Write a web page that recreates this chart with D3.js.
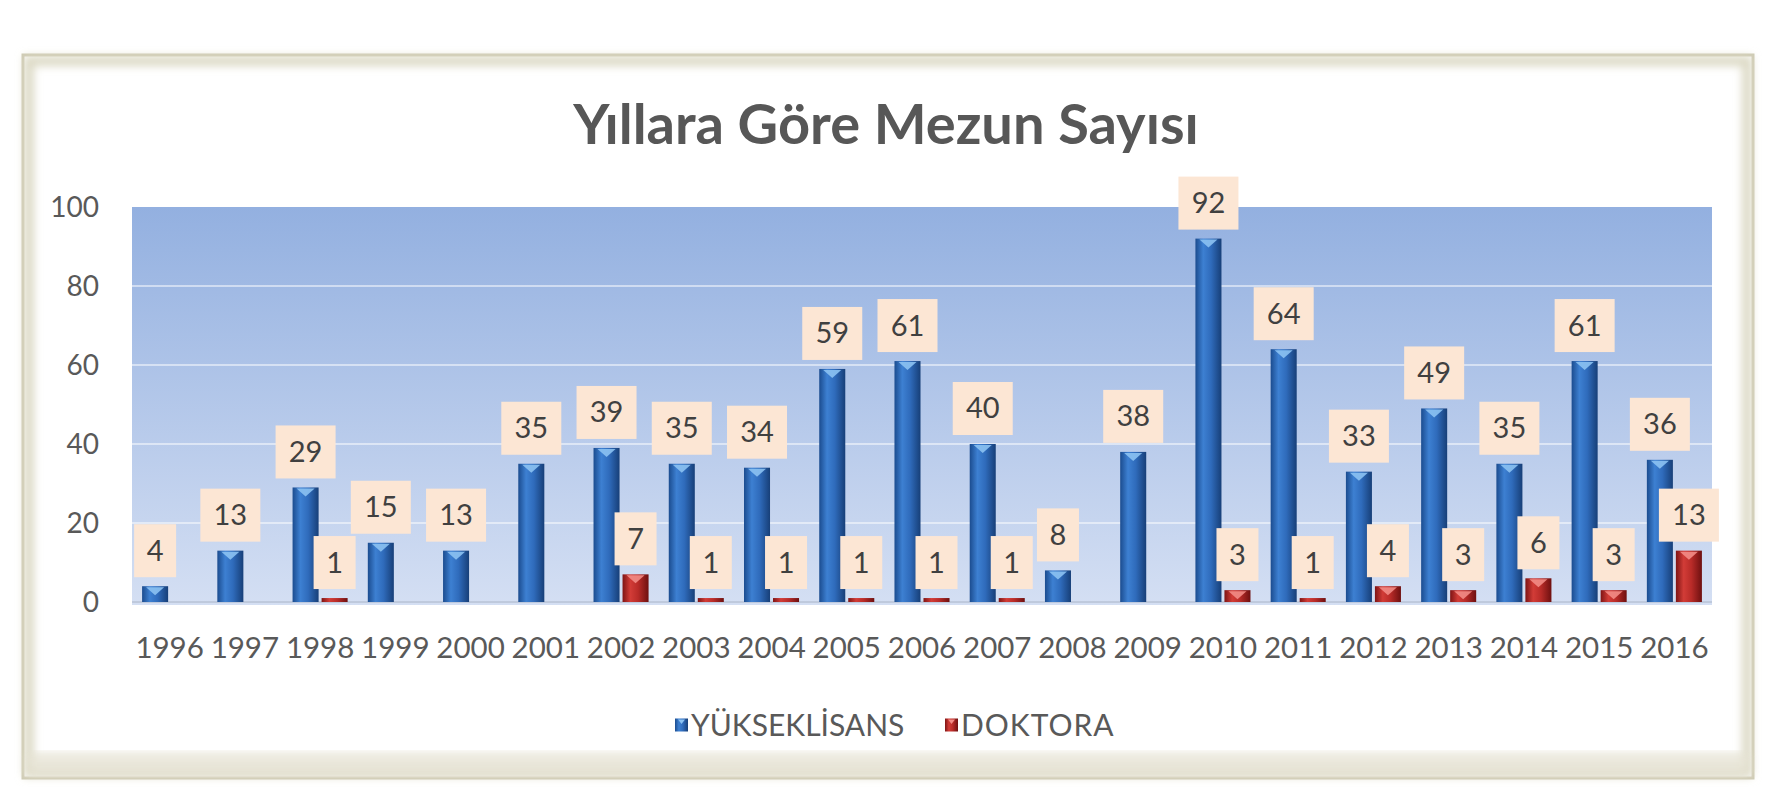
<!DOCTYPE html>
<html>
<head>
<meta charset="utf-8">
<script src="https://cdn.jsdelivr.net/npm/d3@7"></script>
<style>
  html, body { margin: 0; padding: 0; background: #fff; }
  svg { display: block; font-family: Lato, 'Open Sans', sans-serif; }
</style>
</head>
<body>
<div id="chart"></div>
<script>
const years = ['1996', '1997', '1998', '1999', '2000', '2001', '2002', '2003', '2004', '2005', '2006',
  '2007', '2008', '2009', '2010', '2011', '2012', '2013', '2014', '2015', '2016']
const yuksekLisans = [4, 13, 29, 15, 13, 35, 39, 35, 34, 59, 61, 40, 8, 38, 92, 64, 33, 49, 35, 61, 36]
const doktora = [null, null, 1, null, null, null, 7, 1, 1, 1, 1, 1, null, null, 3, 1, 4, 3, 6, 3, 13]
const yTicks = [0, 20, 40, 60, 80, 100]
const seriesNames = ['YÜKSEKLİSANS', 'DOKTORA']
const titleText = 'Yıllara Göre Mezun Sayısı'

const width = 1774
const height = 800
const plot = { left: 132, right: 1712, top: 207, bottom: 602 }

const svg = d3.select('#chart').append('svg').attr('width', width).attr('height', height)
const defs = svg.append('defs')

// gradients
const bg = defs.append('linearGradient').attr('id', 'plotBg').attr('x1', 0).attr('y1', 0).attr('x2', 0).attr('y2', 1)
bg.append('stop').attr('offset', '0%').attr('stop-color', '#93b0e0')
bg.append('stop').attr('offset', '100%').attr('stop-color', '#d4dff3')

function barGradient(id, stops) {
  const g = defs.append('linearGradient').attr('id', id).attr('x1', 0).attr('y1', 0).attr('x2', 1).attr('y2', 0)
  stops.forEach(([o, c]) => g.append('stop').attr('offset', o).attr('stop-color', c))
}
barGradient('blueBar', [['0%', '#1b4c8f'], ['30%', '#3d80d2'], ['60%', '#2f6bbb'], ['100%', '#173f78']])
barGradient('redBar', [['0%', '#7e1414'], ['30%', '#d23c37'], ['60%', '#b82b28'], ['100%', '#6e1010']])

const shadow = defs.append('filter').attr('id', 'soft').attr('x', '-5%').attr('y', '-5%').attr('width', '110%').attr('height', '110%')
shadow.append('feGaussianBlur').attr('stdDeviation', 4)

// frame
const frame = svg.append('g')
frame.append('rect').attr('x', 23).attr('y', 55).attr('width', 1730).attr('height', 723)
  .attr('fill', '#fff').attr('stroke', '#cdc9b2').attr('stroke-width', 3)
frame.append('rect').attr('x', 29).attr('y', 61).attr('width', 1718).attr('height', 711)
  .attr('fill', 'none').attr('stroke', '#dcd9c4').attr('stroke-width', 10).attr('filter', 'url(#soft)')
frame.append('rect').attr('x', 27).attr('y', 752).attr('width', 1722).attr('height', 24)
  .attr('fill', '#e6e3d4').attr('filter', 'url(#soft)').attr('opacity', 0.8)

// scales
const x = d3.scaleBand().domain(years).range([plot.left, plot.right]).paddingInner(0).paddingOuter(0)
const xSub = d3.scaleBand().domain(seriesNames).range([0, x.bandwidth()]).paddingInner(0.103).paddingOuter(0.348)
const y = d3.scaleLinear().domain([0, 100]).range([plot.bottom, plot.top])

// plot area
svg.append('rect').attr('x', plot.left).attr('y', plot.top)
  .attr('width', plot.right - plot.left).attr('height', plot.bottom - plot.top + 3)
  .attr('fill', 'url(#plotBg)')

svg.append('g').selectAll('line').data(yTicks.filter((d) => d > 0 && d < 100)).join('line')
  .attr('x1', plot.left).attr('x2', plot.right)
  .attr('y1', (d) => y(d)).attr('y2', (d) => y(d))
  .attr('stroke', '#ffffff').attr('stroke-opacity', 0.5).attr('stroke-width', 2)

svg.append('line').attr('x1', plot.left).attr('x2', plot.right).attr('y1', y(0)).attr('y2', y(0))
  .attr('stroke', '#aab4c6').attr('stroke-width', 1)

// y axis
const yAxis = svg.append('g').attr('transform', `translate(${plot.left - 33},0)`)
  .call(d3.axisLeft(y).tickValues(yTicks).tickSize(0).tickPadding(0))
yAxis.select('.domain').remove()
yAxis.selectAll('text').attr('font-size', 28).attr('fill', '#595959').attr('font-family', 'Lato, sans-serif').attr('dy', '0.35em')

// x axis
const xAxis = svg.append('g').attr('transform', `translate(0,${y(0)})`)
  .call(d3.axisBottom(x).tickSize(0).tickPadding(0))
xAxis.select('.domain').remove()
xAxis.selectAll('text').attr('font-size', 29.5).attr('fill', '#595959').attr('font-family', 'Lato, sans-serif')
  .attr('dy', '1.9em')

// bars
const rows = years.map((yr, i) => [
  { year: yr, key: seriesNames[0], value: yuksekLisans[i], fill: 'url(#blueBar)', cap: '#8cc2f2' },
  { year: yr, key: seriesNames[1], value: doktora[i], fill: 'url(#redBar)', cap: '#f28c86' },
]).flat().filter((d) => d.value != null)

const barG = svg.append('g')
barG.selectAll('rect').data(rows).join('rect')
  .attr('x', (d) => x(d.year) + xSub(d.key))
  .attr('y', (d) => y(d.value))
  .attr('width', xSub.bandwidth())
  .attr('height', (d) => y(0) - y(d.value))
  .attr('fill', (d) => d.fill)

// little arrow cap on top of each bar
barG.selectAll('path').data(rows.filter((d) => y(0) - y(d.value) > 10)).join('path')
  .attr('d', (d) => {
    const x0 = x(d.year) + xSub(d.key)
    const w = xSub.bandwidth()
    const top = y(d.value)
    return `M${x0 + 4},${top + 1}L${x0 + w - 4},${top + 1}L${x0 + w / 2},${top + 9}Z`
  })
  .attr('fill', (d) => d.cap).attr('opacity', 0.9)

// data labels
const labelG = svg.append('g')
const labels = labelG.selectAll('g').data(rows).join('g')
  .attr('transform', (d) => `translate(${x(d.year) + xSub(d.key) + xSub.bandwidth() / 2},${y(d.value) - 10 - 26})`)
labels.append('rect')
  .attr('x', (d) => -(String(d.value).length * 9 + 12))
  .attr('width', (d) => String(d.value).length * 18 + 24)
  .attr('y', -26).attr('height', 53)
  .attr('fill', '#fce6d4')
labels.append('text').text((d) => d.value)
  .attr('text-anchor', 'middle').attr('dy', '0.36em')
  .attr('font-size', 29).attr('fill', '#404040')

// title
svg.append('text').attr('x', 886).attr('y', 144).attr('text-anchor', 'middle')
  .attr('font-size', 56).attr('font-weight', 'bold').attr('fill', '#575757').text(titleText)

// legend
const legend = svg.append('g').attr('transform', 'translate(675,725)')
const legendItems = [
  { name: seriesNames[0], fill: 'url(#blueBar)', cap: '#8cc2f2', dx: 0, ls: 0 },
  { name: seriesNames[1], fill: 'url(#redBar)', cap: '#f28c86', dx: 270, ls: 1 },
]
const li = legend.selectAll('g').data(legendItems).join('g').attr('transform', (d) => `translate(${d.dx},0)`)
li.append('rect').attr('x', 0).attr('y', -6.5).attr('width', 13).attr('height', 13).attr('fill', (d) => d.fill)
li.append('path').attr('d', 'M3,-5.5L10,-5.5L6.5,-1Z').attr('fill', (d) => d.cap)
li.append('text').attr('x', 16).attr('dy', '0.36em').attr('font-size', 30).attr('fill', '#595959')
  .attr('letter-spacing', (d) => d.ls).text((d) => d.name)
</script>
</body>
</html>
